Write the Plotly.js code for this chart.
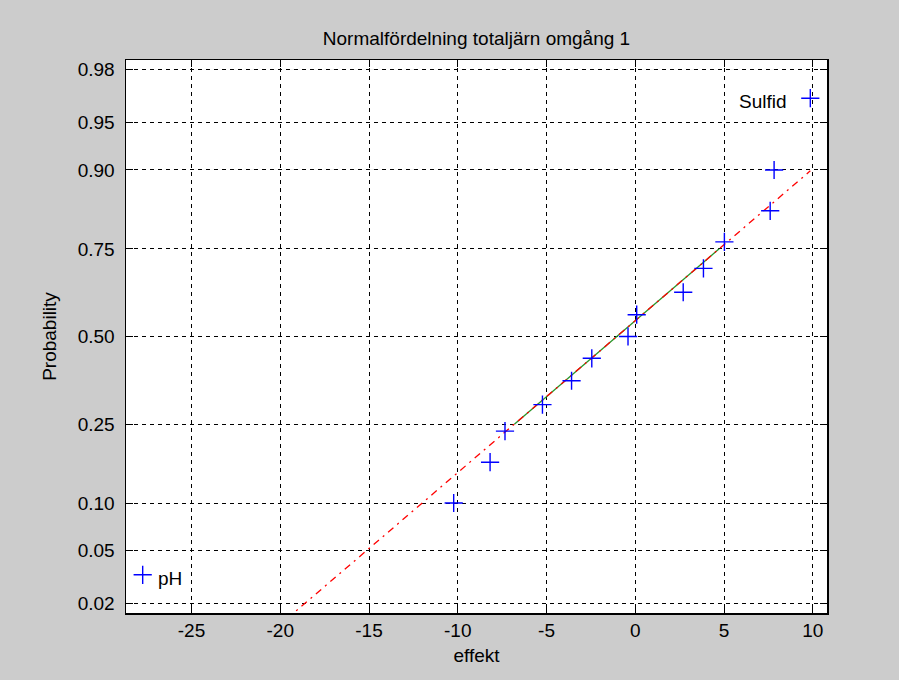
<!DOCTYPE html>
<html><head><meta charset="utf-8">
<script src="https://cdn.plot.ly/plotly-3.0.1.min.js"></script>
<style>html,body{margin:0;padding:0;background:#cccccc;}</style>
</head><body><div id="chart" style="width:899px;height:680px;"></div>
<script>
// Data (sorted effect values)
const effekt = [-27.75, -10.23, -8.18, -7.34, -5.23, -3.59, -2.45, -0.41, 0.08, 2.70, 3.84, 5.02, 7.60, 7.82, 9.86];
const probTicks = [0.02, 0.05, 0.10, 0.25, 0.50, 0.75, 0.90, 0.95, 0.98];
const probTickLabels = ['0.02', '0.05', '0.10', '0.25', '0.50', '0.75', '0.90', '0.95', '0.98'];
const xTicks = [-25, -20, -15, -10, -5, 0, 5, 10];
const pointLabels = ['pH', 'Sulfid'];
const titleText = 'Normalfördelning totaljärn omgång 1';
const xLabel = 'effekt';
const yLabel = 'Probability';

// inverse normal CDF (Acklam) - the probability-scale transform
function norminv(p) {
  const a = [-3.969683028665376e+01, 2.209460984245205e+02, -2.759285104469687e+02, 1.383577518672690e+02, -3.066479806614716e+01, 2.506628277459239e+00];
  const b = [-5.447609879822406e+01, 1.615858368580409e+02, -1.556989798598866e+02, 6.680131188771972e+01, -1.328068155288572e+01];
  const c = [-7.784894002430293e-03, -3.223964580411365e-01, -2.400758277161838e+00, -2.549671348283180e+00, 4.374664141464968e+00, 2.938163982698783e+00];
  const d = [7.784695709041462e-03, 3.224671290700398e-01, 2.445134137142996e+00, 3.754408661907416e+00];
  const plow = 0.02425, phigh = 1 - plow;
  let q, r;
  if (p < plow) {
    q = Math.sqrt(-2 * Math.log(p));
    return (((((c[0]*q+c[1])*q+c[2])*q+c[3])*q+c[4])*q+c[5]) / ((((d[0]*q+d[1])*q+d[2])*q+d[3])*q+1);
  } else if (p <= phigh) {
    q = p - 0.5; r = q*q;
    return (((((a[0]*r+a[1])*r+a[2])*r+a[3])*r+a[4])*r+a[5])*q / (((((b[0]*r+b[1])*r+b[2])*r+b[3])*r+b[4])*r+1);
  } else {
    q = Math.sqrt(-2 * Math.log(1 - p));
    return -(((((c[0]*q+c[1])*q+c[2])*q+c[3])*q+c[4])*q+c[5]) / ((((d[0]*q+d[1])*q+d[2])*q+d[3])*q+1);
  }
}

const n = effekt.length;
const probs = effekt.map((_, i) => (i + 0.5) / n);
const zData = probs.map(norminv);

function quantile(p) {
  // MATLAB prctile style: positions (i-0.5)/n, linear interpolation
  for (let i = 0; i < n - 1; i++) {
    if (p >= probs[i] && p <= probs[i + 1]) {
      const f = (p - probs[i]) / (probs[i + 1] - probs[i]);
      return effekt[i] + f * (effekt[i + 1] - effekt[i]);
    }
  }
  return p < probs[0] ? effekt[0] : effekt[n - 1];
}
const q1 = quantile(0.25), q3 = quantile(0.75);
const zq1 = norminv(0.25), zq3 = norminv(0.75);
const slope = (zq3 - zq1) / (q3 - q1);
const xmin = effekt[0], xmax = effekt[n - 1];
const lineAt = x => zq1 + slope * (x - q1);

const xr = xmax - xmin;
const xRange = [xmin - 0.025 * xr, xmax + 0.025 * xr];
const yRange = [norminv(0.25 / n), norminv(1 - 0.25 / n)];

const FONT = 'Liberation Sans, Arial, sans-serif';

const traces = [
  { x: [q1, q3], y: [zq1, zq3], mode: 'lines', line: { color: 'rgb(40,150,40)', width: 1.3 }, hoverinfo: 'skip', showlegend: false },
  { x: [xmin, xmax], y: [lineAt(xmin), lineAt(xmax)], mode: 'lines', line: { color: 'rgb(255,0,0)', width: 1.3, dash: '7px,5px,2px,5px' }, hoverinfo: 'skip', showlegend: false },
  { x: effekt, y: zData, mode: 'markers', marker: { symbol: 'cross-thin', size: 13, line: { color: 'rgb(0,0,255)', width: 1.4 }, color: 'rgb(0,0,255)' }, showlegend: false }
];

const layout = {
  width: 899, height: 680,
  paper_bgcolor: '#cccccc', plot_bgcolor: '#ffffff',
  margin: { l: 126, r: 72, t: 60, b: 67 },
  font: { family: FONT, size: 19, color: '#000' },
  title: { text: titleText, font: { family: FONT, size: 19, color: '#000' }, x: 0.5, xref: 'paper', y: 1 - 38 / 680, yref: 'container', yanchor: 'middle' },
  xaxis: {
    range: xRange, tickvals: xTicks, ticktext: xTicks.map(String),
    ticks: 'inside', ticklen: 7, tickcolor: '#000', mirror: 'ticks',
    showline: true, linecolor: '#000', linewidth: 1.5,
    showgrid: true, gridcolor: '#000', gridwidth: 1, griddash: '4px,4px',
    zeroline: false, tickfont: { family: FONT, size: 19 },
    title: { text: xLabel, font: { family: FONT, size: 19 }, standoff: 8 }
  },
  yaxis: {
    range: yRange, tickvals: probTicks.map(norminv), ticktext: probTickLabels,
    ticks: 'inside', ticklen: 7, tickcolor: '#000', mirror: 'ticks',
    showline: true, linecolor: '#000', linewidth: 1.5,
    showgrid: true, gridcolor: '#000', gridwidth: 1, griddash: '4px,4px',
    zeroline: false, tickfont: { family: FONT, size: 19 }, ticklabelstandoff: 6,
    title: { text: yLabel, font: { family: FONT, size: 19 }, standoff: 16 }
  },
  annotations: [
    { x: effekt[0], y: zData[0], text: pointLabels[0], showarrow: false, xanchor: 'left', yanchor: 'middle', xshift: 13, yshift: -4, font: { family: FONT, size: 19, color: '#000' } },
    { x: effekt[n - 1], y: zData[n - 1], text: pointLabels[1], showarrow: false, xanchor: 'right', yanchor: 'middle', xshift: -21, yshift: -3, font: { family: FONT, size: 19, color: '#000' } }
  ]
};

Plotly.newPlot('chart', traces, layout, { displayModeBar: false, staticPlot: true });
</script>
</body></html>
